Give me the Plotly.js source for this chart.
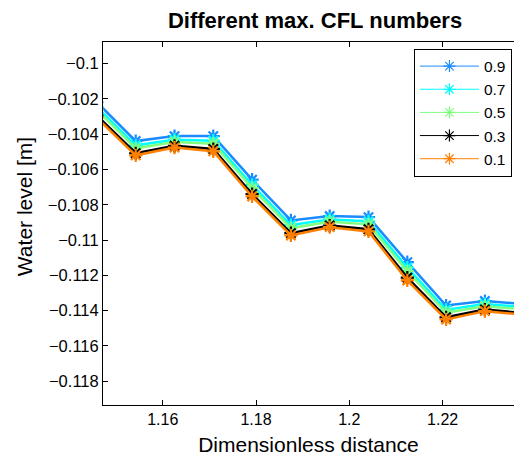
<!DOCTYPE html>
<html>
<head>
<meta charset="utf-8">
<script src="https://cdn.plot.ly/plotly-3.0.1.min.js"></script>
<style>html,body{margin:0;padding:0;background:#fff;}#chart{width:514px;height:457px;}</style>
</head>
<body>
<div id="chart"></div>
<script>
const distance = [1.14589, 1.15421, 1.16253, 1.17084, 1.17916, 1.18748, 1.19579, 1.20411, 1.21243, 1.22074, 1.22906, 1.23738];
const cfl09 = [-0.10219, -0.10439, -0.10411, -0.10411, -0.10658, -0.10889, -0.10864, -0.10870, -0.11125, -0.11371, -0.11346, -0.11362];
const cfl07 = [-0.10245, -0.10463, -0.10431, -0.10437, -0.10687, -0.10915, -0.10883, -0.10894, -0.11156, -0.11395, -0.11363, -0.11380];
const cfl05 = [-0.10263, -0.10480, -0.10444, -0.10454, -0.10706, -0.10932, -0.10896, -0.10911, -0.11177, -0.11411, -0.11375, -0.11393];
const cfl03 = [-0.10294, -0.10508, -0.10466, -0.10484, -0.10739, -0.10961, -0.10918, -0.10939, -0.11213, -0.11438, -0.11394, -0.11414];
const cfl01 = [-0.10307, -0.10520, -0.10476, -0.10497, -0.10753, -0.10974, -0.10927, -0.10951, -0.11229, -0.11450, -0.11403, -0.11423];
const seriesNames = ['0.9', '0.7', '0.5', '0.3', '0.1'];
const seriesColors = ['#1a8cff', '#00ffff', '#80ff80', '#000000', '#ff8000'];
const yTicks = [-0.1, -0.102, -0.104, -0.106, -0.108, -0.11, -0.112, -0.114, -0.116, -0.118];
const xTicks = [1.16, 1.18, 1.2, 1.22];

const allY = [cfl09, cfl07, cfl05, cfl03, cfl01];
// thin-styled traces supply the legend entries (drawn underneath the thick ones)
const legendTraces = allY.map((ys, i) => ({
  x: distance, y: ys, name: seriesNames[i], type: 'scatter', mode: 'lines+markers',
  line: {color: seriesColors[i], width: 1},
  marker: {symbol: 'asterisk-open', size: 10, color: seriesColors[i], line: {color: seriesColors[i], width: 1.2}},
  legendrank: i + 1
}));
const plotTraces = allY.map((ys, i) => ({
  x: distance, y: ys, name: seriesNames[i], type: 'scatter', mode: 'lines+markers', showlegend: false,
  line: {color: seriesColors[i], width: 2.5},
  marker: {symbol: 'asterisk-open', size: 11, color: seriesColors[i], line: {color: seriesColors[i], width: 2.2}}
}));

const font = {family: 'Liberation Sans, Arial, sans-serif', color: '#000'};
const layout = {
  width: 514, height: 457,
  margin: {l: 103, r: 0, t: 42, b: 52, pad: 0},
  paper_bgcolor: '#fff', plot_bgcolor: '#fff',
  font: Object.assign({size: 16}, font),
  showlegend: true,
  title: {text: '<b>Different max. CFL numbers</b>', font: Object.assign({size: 22}, font), x: 0.516, xanchor: 'center', xref: 'paper', y: 0.955, yanchor: 'middle'},
  xaxis: {
    range: [1.1472, 1.2353], tickvals: xTicks, ticktext: xTicks.map(v => String(v)),
    ticks: 'inside', ticklen: 5, tickcolor: '#000', showline: true, linecolor: '#000', linewidth: 1, mirror: 'ticks',
    showgrid: false, zeroline: false, tickfont: Object.assign({size: 16}, font),
    title: {text: 'Dimensionless distance', font: Object.assign({size: 21}, font), standoff: 10}
  },
  yaxis: {
    range: [-0.11935, -0.098775], tickvals: yTicks, ticktext: yTicks.map(v => '\u2212' + String(-v)),
    ticks: 'inside', ticklen: 5, tickcolor: '#000', showline: true, linecolor: '#000', linewidth: 1, mirror: false,
    showgrid: false, zeroline: false, tickfont: Object.assign({size: 16.5}, font)
  },
  annotations: [{
    text: 'Water level [m]', textangle: -90, xref: 'paper', yref: 'paper',
    x: -0.1922, y: 0.545, xanchor: 'center', yanchor: 'middle', showarrow: false,
    font: Object.assign({size: 21}, font)
  }],
  legend: {
    x: 0.995, y: 0.982, xanchor: 'right', yanchor: 'top', traceorder: 'normal',
    bordercolor: '#000', borderwidth: 1, bgcolor: '#fff',
    font: Object.assign({size: 15.5}, font), tracegroupgap: 0, itemwidth: 59
  }
};
Plotly.newPlot('chart', legendTraces.concat(plotTraces), layout, {displayModeBar: false, staticPlot: true});
</script>
</body>
</html>
